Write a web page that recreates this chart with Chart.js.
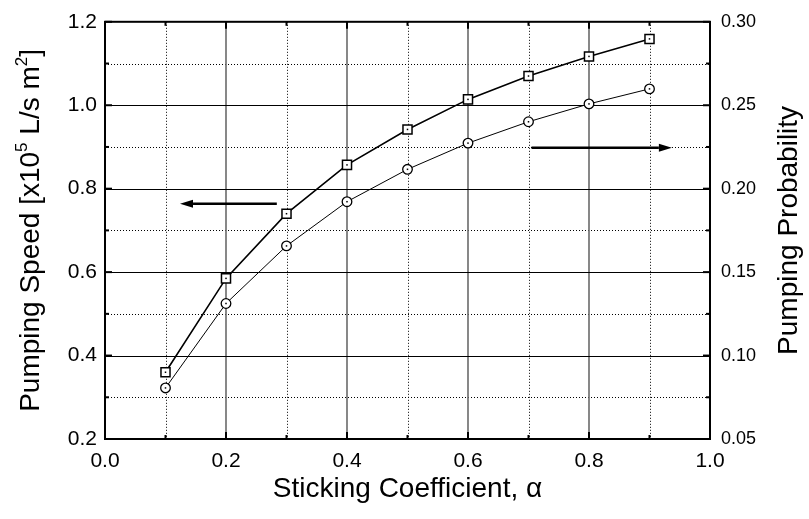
<!DOCTYPE html>
<html>
<head>
<meta charset="utf-8">
<script src="https://cdn.jsdelivr.net/npm/chart.js@4.4.0/dist/chart.umd.min.js"></script>
<style>
  html, body { margin: 0; padding: 0; background: #fff; }
</style>
</head>
<body>
<canvas id="chart" width="809" height="519"></canvas>
<script>
// sticking coefficient (x) and the two measured curves
const alpha = [0.1, 0.2, 0.3, 0.4, 0.5, 0.6, 0.7, 0.8, 0.9];
const pumpingSpeed = [0.360, 0.585, 0.740, 0.857, 0.942, 1.014, 1.070, 1.117, 1.159];
const pumpingProbability = [0.0806, 0.1312, 0.1657, 0.1922, 0.2116, 0.2273, 0.2401, 0.2508, 0.2598];

// tick labels
const xTicks = [0.0, 0.2, 0.4, 0.6, 0.8, 1.0];
const speedTicks = [0.2, 0.4, 0.6, 0.8, 1.0, 1.2];
const probTicks = [0.05, 0.10, 0.15, 0.20, 0.25, 0.30];

// arrows telling which axis each curve belongs to (data units)
const speedArrow = { x: [0.284, 0.124], y: 0.764 };
const probArrow = { x: [0.705, 0.937], y: 0.2245 };

const FONT = "'Liberation Sans', Arial, Helvetica, sans-serif";

function midpoints(arr) {
  const out = [];
  for (let i = 0; i < arr.length - 1; i++) out.push((arr[i] + arr[i + 1]) / 2);
  return out;
}

function arrow(ctx, x1, y1, x2, y2) {
  const dir = Math.sign(x2 - x1);
  const headLen = 13, headHalf = 4;
  ctx.save();
  ctx.strokeStyle = "#000";
  ctx.fillStyle = "#000";
  ctx.lineWidth = 2.6;
  ctx.beginPath();
  ctx.moveTo(x1, y1);
  ctx.lineTo(x2 - dir * headLen, y2);
  ctx.stroke();
  ctx.beginPath();
  ctx.moveTo(x2, y2);
  ctx.lineTo(x2 - dir * headLen, y2 - headHalf);
  ctx.lineTo(x2 - dir * headLen, y2 + headHalf);
  ctx.closePath();
  ctx.fill();
  ctx.restore();
}

const framePlugin = {
  id: "frame",
  beforeDatasetsDraw(chart) {
    const { ctx, chartArea: a, scales } = chart;
    const xs = scales.x, ys = scales.y;
    ctx.save();
    // dotted minor grid
    ctx.strokeStyle = "#000";
    ctx.lineWidth = 1;
    ctx.setLineDash([1, 2]);
    midpoints(xTicks).forEach(v => {
      const px = Math.round(xs.getPixelForValue(v)) + 0.5;
      ctx.beginPath(); ctx.moveTo(px, a.top); ctx.lineTo(px, a.bottom); ctx.stroke();
    });
    midpoints(speedTicks).forEach(v => {
      const py = Math.round(ys.getPixelForValue(v)) + 0.5;
      ctx.beginPath(); ctx.moveTo(a.left, py); ctx.lineTo(a.right, py); ctx.stroke();
    });
    ctx.setLineDash([]);
    // solid major grid
    ctx.strokeStyle = "#6a6a6a";
    ctx.lineWidth = 1.6;
    xTicks.slice(1, -1).forEach(v => {
      const px = xs.getPixelForValue(v);
      ctx.beginPath(); ctx.moveTo(px, a.top); ctx.lineTo(px, a.bottom); ctx.stroke();
    });
    ctx.strokeStyle = "#000";
    ctx.lineWidth = 1;
    speedTicks.slice(1, -1).forEach(v => {
      const py = Math.round(ys.getPixelForValue(v)) + 0.5;
      ctx.beginPath(); ctx.moveTo(a.left, py); ctx.lineTo(a.right, py); ctx.stroke();
    });
    ctx.restore();
  },
  afterDatasetsDraw(chart) {
    const { ctx, chartArea: a, scales } = chart;
    const xs = scales.x, ys = scales.y, y2 = scales.y2;
    ctx.save();
    // small dot in the middle of each marker
    ctx.fillStyle = "#000";
    chart.data.datasets.forEach((ds, i) => {
      chart.getDatasetMeta(i).data.forEach(pt => {
        ctx.fillRect(pt.x - 0.75, pt.y - 0.75, 1.5, 1.5);
      });
    });
    // inward tick marks
    ctx.strokeStyle = "#000";
    ctx.lineWidth = 2;
    const tick = (x1, y1, x2, y2_) => { ctx.beginPath(); ctx.moveTo(x1, y1); ctx.lineTo(x2, y2_); ctx.stroke(); };
    xTicks.forEach(v => {
      const px = xs.getPixelForValue(v);
      tick(px, a.bottom, px, a.bottom - 7); tick(px, a.top, px, a.top + 7);
    });
    midpoints(xTicks).forEach(v => {
      const px = xs.getPixelForValue(v);
      tick(px, a.bottom, px, a.bottom - 4); tick(px, a.top, px, a.top + 4);
    });
    speedTicks.forEach(v => { const py = ys.getPixelForValue(v); tick(a.left, py, a.left + 7, py); });
    midpoints(speedTicks).forEach(v => { const py = ys.getPixelForValue(v); tick(a.left, py, a.left + 4, py); });
    probTicks.forEach(v => { const py = y2.getPixelForValue(v); tick(a.right, py, a.right - 7, py); });
    midpoints(probTicks).forEach(v => { const py = y2.getPixelForValue(v); tick(a.right, py, a.right - 4, py); });
    // frame
    ctx.lineWidth = 2;
    ctx.strokeRect(a.left, a.top, a.right - a.left, a.bottom - a.top);
    ctx.restore();
    // arrows
    arrow(ctx, xs.getPixelForValue(speedArrow.x[0]), ys.getPixelForValue(speedArrow.y),
      xs.getPixelForValue(speedArrow.x[1]), ys.getPixelForValue(speedArrow.y));
    arrow(ctx, xs.getPixelForValue(probArrow.x[0]), y2.getPixelForValue(probArrow.y),
      xs.getPixelForValue(probArrow.x[1]), y2.getPixelForValue(probArrow.y));
  },
  afterDraw(chart) {
    const { ctx, chartArea: a } = chart;
    const size = 28, sup = 17;
    const midY = (a.top + a.bottom) / 2;
    ctx.save();
    ctx.fillStyle = "#000";
    ctx.textBaseline = "alphabetic";
    // x axis title
    ctx.font = size + "px " + FONT;
    ctx.textAlign = "center";
    ctx.fillText("Sticking Coefficient, \u03b1", (a.left + a.right) / 2, 497);

    // left title with superscripts
    const parts = [
      ["Pumping Speed [x10", false], ["5", true], [" L/s m", false], ["2", true], ["]", false]
    ];
    let total = 0;
    parts.forEach(([t, s]) => {
      ctx.font = (s ? sup : size) + "px " + FONT;
      total += ctx.measureText(t).width;
    });
    ctx.save();
    ctx.translate(39, midY);
    ctx.rotate(-Math.PI / 2);
    ctx.textAlign = "left";
    let cx = -total / 2;
    parts.forEach(([t, s]) => {
      ctx.font = (s ? sup : size) + "px " + FONT;
      ctx.fillText(t, cx, s ? -12 : 0);
      cx += ctx.measureText(t).width;
    });
    ctx.restore();

    // right title
    ctx.save();
    ctx.translate(797, midY);
    ctx.rotate(-Math.PI / 2);
    ctx.font = size + "px " + FONT;
    ctx.textAlign = "center";
    ctx.fillText("Pumping Probability", 0, 0);
    ctx.restore();
    ctx.restore();
  }
};

const toPoints = ys => alpha.map((a, i) => ({ x: a, y: ys[i] }));

new Chart(document.getElementById("chart"), {
  type: "line",
  data: {
    datasets: [
      {
        label: "Pumping Speed",
        data: toPoints(pumpingSpeed),
        yAxisID: "y",
        borderColor: "#000",
        borderWidth: 1.6,
        pointStyle: "rect",
        pointRadius: 6.4,
        pointBackgroundColor: "#fff",
        pointBorderColor: "#000",
        pointBorderWidth: 1.5,
        tension: 0,
      },
      {
        label: "Pumping Probability",
        data: toPoints(pumpingProbability),
        yAxisID: "y2",
        borderColor: "#000",
        borderWidth: 1,
        pointStyle: "circle",
        pointRadius: 4.8,
        pointBackgroundColor: "#fff",
        pointBorderColor: "#000",
        pointBorderWidth: 1.3,
        tension: 0,
      },
    ],
  },
  options: {
    responsive: false,
    animation: false,
    layout: { padding: { top: 20, left: 0, right: 0, bottom: 0 } },
    plugins: { legend: { display: false }, tooltip: { enabled: false } },
    scales: {
      x: {
        type: "linear",
        min: 0,
        max: 1,
        afterBuildTicks: s => { s.ticks = xTicks.map(v => ({ value: v })); },
        afterFit: s => { s.height = 80; },
        ticks: {
          callback: v => v.toFixed(1),
          font: { family: FONT, size: 21 },
          color: "#000",
          padding: 10,
          maxRotation: 0,
          autoSkip: false,
        },
        grid: { display: false, drawTicks: false },
        border: { display: false },
      },
      y: {
        position: "left",
        min: 0.2,
        max: 1.2,
        afterBuildTicks: s => { s.ticks = speedTicks.map(v => ({ value: v })); },
        afterFit: s => { s.width = 105; },
        ticks: {
          callback: v => v.toFixed(1),
          font: { family: FONT, size: 21 },
          color: "#000",
          padding: 8,
          autoSkip: false,
        },
        grid: { display: false, drawTicks: false },
        border: { display: false },
      },
      y2: {
        position: "right",
        min: 0.05,
        max: 0.30,
        afterBuildTicks: s => { s.ticks = probTicks.map(v => ({ value: v })); },
        afterFit: s => { s.width = 99; },
        ticks: {
          callback: v => v.toFixed(2),
          font: { family: FONT, size: 18 },
          color: "#000",
          padding: 11,
          autoSkip: false,
        },
        grid: { display: false, drawTicks: false },
        border: { display: false },
      },
    },
  },
  plugins: [framePlugin],
});
</script>
</body>
</html>
